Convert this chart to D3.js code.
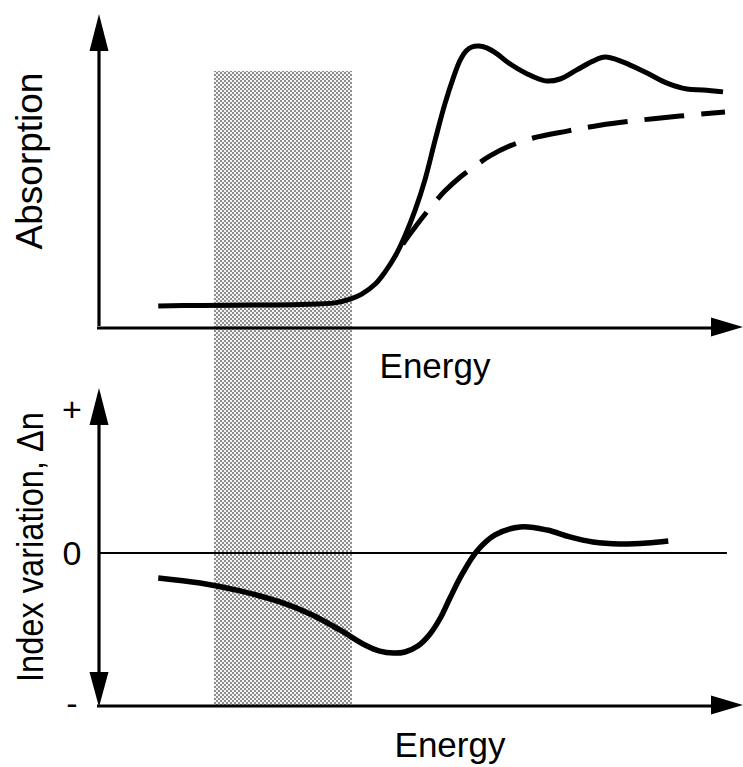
<!DOCTYPE html>
<html>
<head>
<meta charset="utf-8">
<script src="https://cdn.jsdelivr.net/npm/d3@7"></script>
<style>
  html, body { margin: 0; padding: 0; background: #fff; }
  svg { display: block; }
  text { font-family: "Liberation Sans", Arial, Helvetica, sans-serif; fill: #000; }
</style>
</head>
<body>
<svg id="chart" width="743" height="767"></svg>
<script>
// Absorption edge (solid) and background absorption (dashed), arbitrary units
const absEnergy = [9.2, 15.7, 23.4, 31.2, 36.6, 39.0, 40.8, 42.9, 44.4, 46.0, 47.5, 49.1, 50.6, 52.2, 53.7, 55.0, 56.1, 57.0, 57.9, 59.0, 60.2, 61.8, 63.4, 66.5, 69.3, 71.6, 74.2, 76.7, 78.6, 81.4, 85.1, 88.2, 91.3, 93.8, 96.9];
const absValues = [7.0, 7.2, 7.3, 7.5, 8.0, 9.2, 10.8, 14.0, 17.8, 22.9, 29.3, 37.6, 47.1, 59.9, 71.3, 79.6, 85.4, 88.2, 89.5, 89.8, 89.2, 87.3, 84.7, 80.9, 78.7, 79.3, 82.2, 85.0, 86.3, 84.7, 81.2, 78.0, 76.1, 75.8, 75.2];

const bgEnergy = [46.0, 47.5, 49.1, 51.4, 53.7, 56.1, 58.4, 60.7, 63.8, 67.4, 72.7, 77.8, 84.0, 90.2, 97.2];
const bgValues = [22.9, 27.7, 32.2, 38.2, 43.6, 48.1, 51.6, 54.8, 58.0, 60.5, 62.7, 64.6, 66.2, 67.5, 68.8];

// Refractive index change Δn, arbitrary units
const dnEnergy = [9.2, 15.7, 21.9, 28.1, 32.8, 37.4, 41.3, 43.6, 45.7, 47.5, 49.5, 51.4, 53.0, 54.5, 56.4, 58.7, 61.5, 65.4, 69.6, 73.1, 76.7, 80.9, 85.1, 88.4];
const dnValues = [-0.163, -0.196, -0.248, -0.320, -0.399, -0.503, -0.601, -0.641, -0.654, -0.647, -0.608, -0.529, -0.425, -0.294, -0.137, 0.013, 0.118, 0.170, 0.150, 0.105, 0.072, 0.059, 0.065, 0.078];

// Highlighted energy window below the edge
const bandEnergy = [17.9, 39.4];
const bandTopAbs = 81.8;

const axisLabels = { absorption: "Absorption", index: "Index variation, Δn", energy: "Energy" };
const indexTicks = ["+", "0", "-"];

const svg = d3.select("#chart");

const x = d3.scaleLinear().domain([0, 100]).range([99, 743]);
const yAbs = d3.scaleLinear().domain([0, 100]).range([328, 14]);
const yDn = d3.scaleLinear().domain([-1, 1]).range([706, 400]);

// halftone fill for the window
const defs = svg.append("defs");
const pat = defs.append("pattern")
  .attr("id", "halftone").attr("patternUnits", "userSpaceOnUse")
  .attr("width", 4).attr("height", 4);
pat.append("rect").attr("width", 4).attr("height", 4).attr("fill", "#f4f4f4");
pat.append("rect").attr("x", 0).attr("y", 0).attr("width", 2).attr("height", 2).attr("fill", "#8e8e8e");
pat.append("rect").attr("x", 2).attr("y", 2).attr("width", 2).attr("height", 2).attr("fill", "#8e8e8e");

svg.append("rect")
  .attr("x", Math.round(x(bandEnergy[0])))
  .attr("y", Math.round(yAbs(bandTopAbs)))
  .attr("width", Math.round(x(bandEnergy[1]) - x(bandEnergy[0])))
  .attr("height", Math.round(yDn(-1) - yAbs(bandTopAbs)))
  .attr("fill", "url(#halftone)");

// arrowhead helper: tip at (tx,ty) pointing in direction (dx,dy)
function arrow(tx, ty, dx, dy, len = 34, half = 9.5) {
  const bx = tx - dx * len, by = ty - dy * len;
  const px = -dy * half, py = dx * half;
  svg.append("path")
    .attr("d", `M${tx},${ty}L${bx + px},${by + py}L${bx - px},${by - py}Z`)
    .attr("fill", "#000");
}

const axisW = 3.2;
// top panel axes
svg.append("line").attr("x1", x(0)).attr("x2", x(0))
  .attr("y1", yAbs(0) - 2).attr("y2", yAbs(100) + 30)
  .attr("stroke", "#000").attr("stroke-width", axisW);
arrow(x(0), yAbs(100), 0, -1, 37);
svg.append("line").attr("x1", x(0) - 2).attr("x2", x(100) - 30)
  .attr("y1", yAbs(0)).attr("y2", yAbs(0))
  .attr("stroke", "#000").attr("stroke-width", axisW);
arrow(x(100), yAbs(0) - 1, 1, 0, 32);

// bottom panel axes
svg.append("line").attr("x1", x(0)).attr("x2", x(0))
  .attr("y1", yDn(1) - 5).attr("y2", yDn(-1) - 25)
  .attr("stroke", "#000").attr("stroke-width", axisW);
arrow(x(0), yDn(1) - 12, 0, -1, 37);
arrow(x(0), yDn(-1) + 1, 0, 1, 35);
svg.append("line").attr("x1", x(0) - 2).attr("x2", x(100) - 30)
  .attr("y1", yDn(-1)).attr("y2", yDn(-1))
  .attr("stroke", "#000").attr("stroke-width", axisW);
arrow(x(100), yDn(-1) - 1, 1, 0, 32);

// zero reference line
svg.append("line").attr("x1", x(0)).attr("x2", x(97.5))
  .attr("y1", yDn(0)).attr("y2", yDn(0))
  .attr("stroke", "#000").attr("stroke-width", 2);

// curves
const smooth = d3.curveCatmullRom.alpha(0.5);
const absLine = d3.line().x(d => x(d[0])).y(d => yAbs(d[1])).curve(smooth);
const dnLine = d3.line().x(d => x(d[0])).y(d => yDn(d[1])).curve(smooth);

svg.append("path")
  .attr("d", absLine(d3.zip(bgEnergy, bgValues)))
  .attr("fill", "none").attr("stroke", "#000").attr("stroke-width", 5)
  .attr("stroke-dasharray", "40 17").attr("stroke-dashoffset", -14);

svg.append("path")
  .attr("d", absLine(d3.zip(absEnergy, absValues)))
  .attr("fill", "none").attr("stroke", "#000").attr("stroke-width", 5)
  .attr("stroke-linejoin", "round");

svg.append("path")
  .attr("d", dnLine(d3.zip(dnEnergy, dnValues)))
  .attr("fill", "none").attr("stroke", "#000").attr("stroke-width", 5.5)
  .attr("stroke-linejoin", "round");

// labels
svg.append("text").attr("transform", "translate(42,161) rotate(-90)")
  .attr("text-anchor", "middle").attr("font-size", 37).text(axisLabels.absorption);
svg.append("text").attr("transform", "translate(43,547) rotate(-90)")
  .attr("text-anchor", "middle").attr("font-size", 36)
  .attr("textLength", 270).attr("lengthAdjust", "spacingAndGlyphs")
  .text(axisLabels.index);
svg.append("text").attr("x", 435).attr("y", 378)
  .attr("text-anchor", "middle").attr("font-size", 35).text(axisLabels.energy);
svg.append("text").attr("x", 450).attr("y", 757)
  .attr("text-anchor", "middle").attr("font-size", 35).text(axisLabels.energy);

const tickY = [yDn(1) + 21, yDn(0) + 12, yDn(-1) + 9];
indexTicks.forEach((t, i) => {
  svg.append("text").attr("x", 72).attr("y", tickY[i])
    .attr("text-anchor", "middle").attr("font-size", 34).text(t);
});
</script>
</body>
</html>
